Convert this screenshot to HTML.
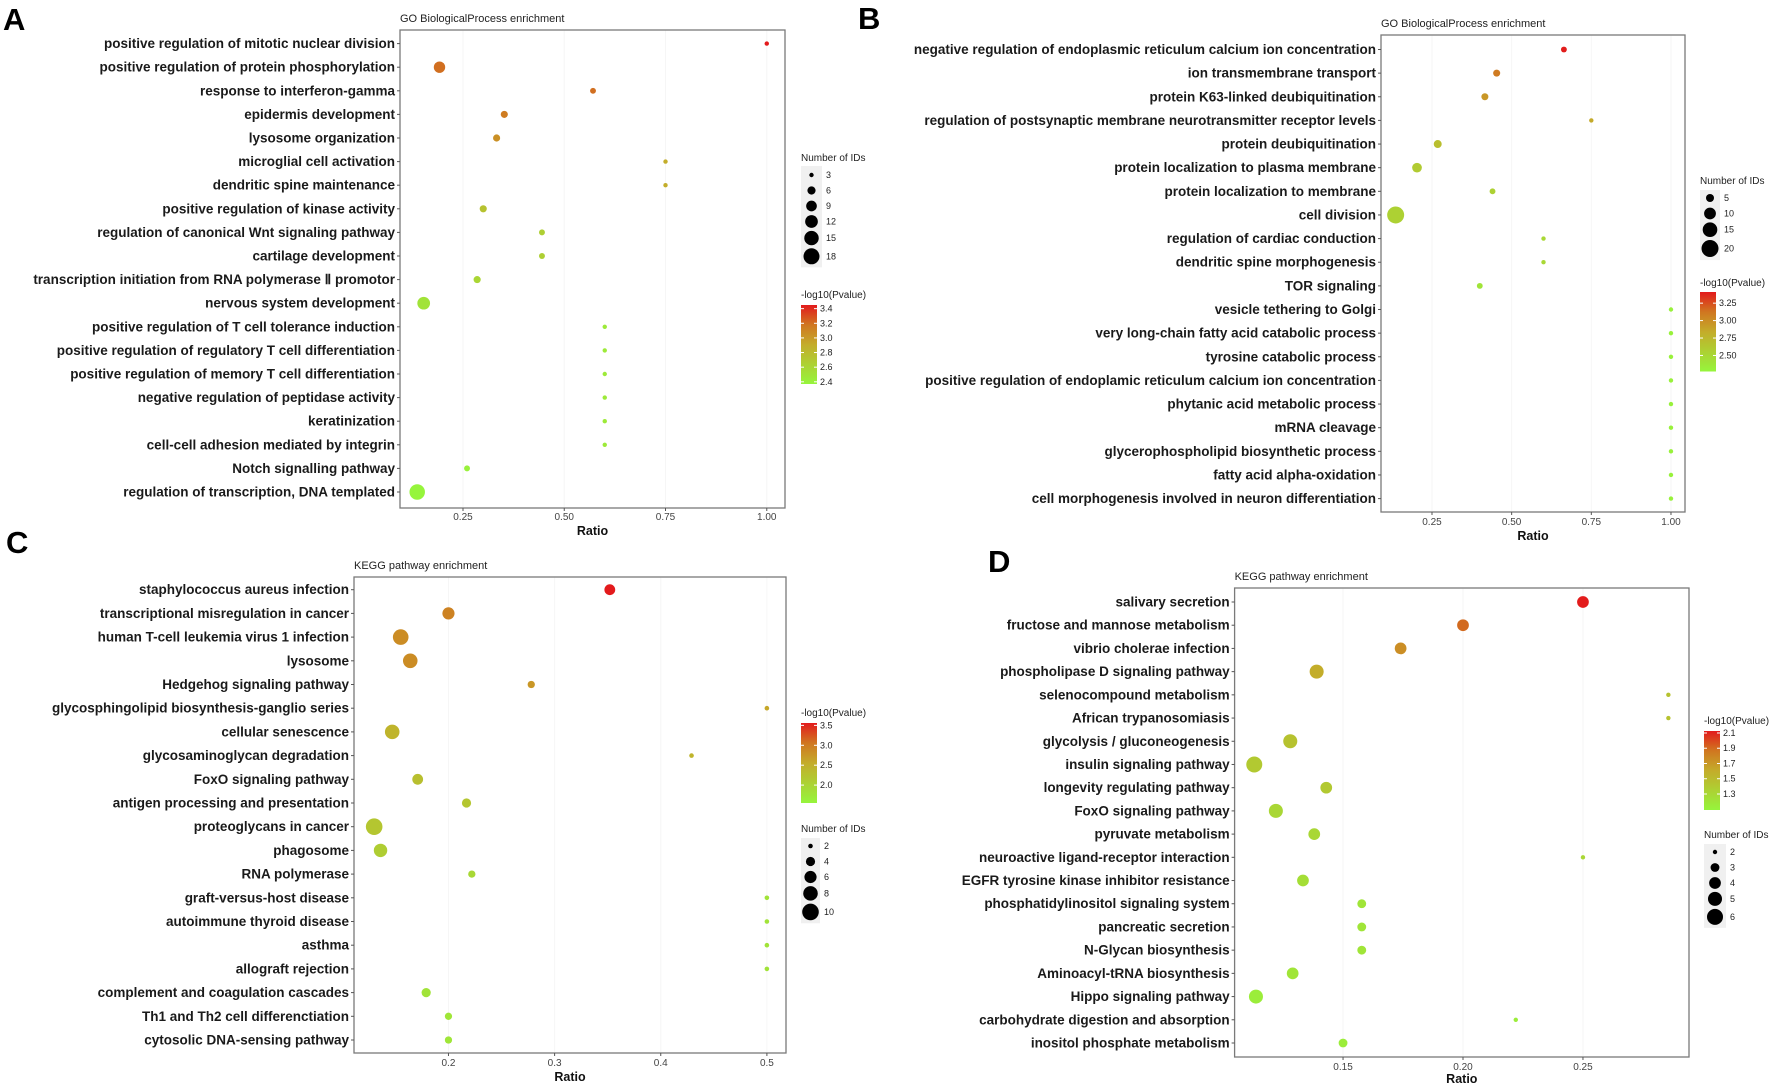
<!DOCTYPE html>
<html><head><meta charset="utf-8">
<style>
html,body{margin:0;padding:0;background:#fff;}
svg{display:block;}
.lab{font-family:"Liberation Sans Narrow","Liberation Sans",sans-serif;font-weight:bold;font-size:13.5px;fill:#1a1a1a;}
.ttl{font-family:"Liberation Sans",sans-serif;font-size:11px;fill:#222;}
.tick{font-family:"Liberation Sans",sans-serif;font-size:10px;fill:#444;}
.axt{font-family:"Liberation Sans",sans-serif;font-weight:bold;font-size:12.5px;fill:#111;}
.leg{font-family:"Liberation Sans",sans-serif;font-size:9px;fill:#222;}
.legt{font-family:"Liberation Sans",sans-serif;font-size:10px;fill:#222;}
.letter{font-family:"Liberation Sans",sans-serif;font-weight:bold;font-size:31px;fill:#000;}
</style></head>
<body>
<svg id="fig" width="1772" height="1086" viewBox="0 0 1772 1086" xmlns="http://www.w3.org/2000/svg">
<text class="letter" x="3" y="30">A</text>
<text class="letter" x="858" y="29">B</text>
<text class="letter" x="6" y="553">C</text>
<text class="letter" x="988" y="572">D</text>
</svg>
<script>
// ---------- Panel A data ----------
const aTerms = ["positive regulation of mitotic nuclear division","positive regulation of protein phosphorylation","response to interferon-gamma","epidermis development","lysosome organization","microglial cell activation","dendritic spine maintenance","positive regulation of kinase activity","regulation of canonical Wnt signaling pathway","cartilage development","transcription initiation from RNA polymerase \u2161 promotor","nervous system development","positive regulation of T cell tolerance induction","positive regulation of regulatory T cell differentiation","positive regulation of memory T cell differentiation","negative regulation of peptidase activity","keratinization","cell-cell adhesion mediated by integrin","Notch signalling pathway","regulation of transcription, DNA templated"];
const aRatio = [1.00,0.192,0.571,0.352,0.333,0.75,0.75,0.30,0.445,0.445,0.285,0.153,0.60,0.60,0.60,0.60,0.60,0.60,0.26,0.137];
const aCount = [3,10,4,5,5,3,3,5,4,4,5,12,3,3,3,3,3,3,4,17];
const aLogP = [3.45,3.2,3.2,3.15,3.05,2.9,2.9,2.75,2.65,2.65,2.6,2.5,2.45,2.45,2.45,2.45,2.45,2.45,2.4,2.35];
const aTicks = [0.25,0.5,0.75,1.0];
const aTickLabels = ["0.25","0.50","0.75","1.00"];
const aSizeBreaks = [3,6,9,12,15,18];
const aColorBreaks = [3.4,3.2,3.0,2.8,2.6,2.4];
const aColorLabels = ["3.4","3.2","3.0","2.8","2.6","2.4"];

// ---------- Panel B data ----------
const bTerms = ["negative regulation of endoplasmic reticulum calcium ion concentration","ion transmembrane transport","protein K63-linked deubiquitination","regulation of postsynaptic membrane neurotransmitter receptor levels","protein deubiquitination","protein localization to plasma membrane","protein localization to membrane","cell division","regulation of cardiac conduction","dendritic spine morphogenesis","TOR signaling","vesicle tethering to Golgi","very long-chain fatty acid catabolic process","tyrosine catabolic process","positive regulation of endoplamic reticulum calcium ion concentration","phytanic acid metabolic process","mRNA cleavage","glycerophospholipid biosynthetic process","fatty acid alpha-oxidation","cell morphogenesis involved in neuron differentiation"];
const bRatio = [0.664,0.453,0.416,0.75,0.268,0.203,0.44,0.136,0.6,0.6,0.4,1,1,1,1,1,1,1,1,1];
const bCount = [3,4,4,2,5,7,3,20,2,2,3,2,2,2,2,2,2,2,2,2];
const bLogP = [3.4,3.1,2.95,2.85,2.7,2.6,2.55,2.55,2.5,2.5,2.4,2.3,2.3,2.3,2.3,2.3,2.3,2.3,2.3,2.3];
const bTicks = [0.25,0.5,0.75,1.0];
const bTickLabels = ["0.25","0.50","0.75","1.00"];
const bSizeBreaks = [5,10,15,20];
const bColorBreaks = [3.25,3.0,2.75,2.5];
const bColorLabels = ["3.25","3.00","2.75","2.50"];

// ---------- Panel C data ----------
const cTerms = ["staphylococcus aureus infection","transcriptional misregulation in cancer","human T-cell leukemia virus 1 infection","lysosome","Hedgehog signaling pathway","glycosphingolipid biosynthesis-ganglio series","cellular senescence","glycosaminoglycan degradation","FoxO signaling pathway","antigen processing and presentation","proteoglycans in cancer","phagosome","RNA polymerase","graft-versus-host disease","autoimmune thyroid disease","asthma","allograft rejection","complement and coagulation cascades","Th1 and Th2 cell differenctiation","cytosolic DNA-sensing pathway"];
const cRatio = [0.352,0.20,0.155,0.164,0.278,0.5,0.147,0.429,0.171,0.217,0.13,0.136,0.222,0.5,0.5,0.5,0.5,0.179,0.2,0.2];
const cCount = [5,6,9,8,3,2,8,2,5,4,10,7,3,2,2,2,2,4,3,3];
const cLogP = [3.6,2.95,2.85,2.85,2.75,2.6,2.45,2.45,2.3,2.2,2.2,2.1,1.95,1.8,1.8,1.8,1.8,1.8,1.75,1.75];
const cTicks = [0.2,0.3,0.4,0.5];
const cTickLabels = ["0.2","0.3","0.4","0.5"];
const cSizeBreaks = [2,4,6,8,10];
const cColorBreaks = [3.5,3.0,2.5,2.0];
const cColorLabels = ["3.5","3.0","2.5","2.0"];

// ---------- Panel D data ----------
const dTerms = ["salivary secretion","fructose and mannose metabolism","vibrio cholerae infection","phospholipase D signaling pathway","selenocompound metabolism","African trypanosomiasis","glycolysis / gluconeogenesis","insulin signaling pathway","longevity regulating pathway","FoxO signaling pathway","pyruvate metabolism","neuroactive ligand-receptor interaction","EGFR tyrosine kinase inhibitor resistance","phosphatidylinositol signaling system","pancreatic secretion","N-Glycan biosynthesis","Aminoacyl-tRNA biosynthesis","Hippo signaling pathway","carbohydrate digestion and absorption","inositol phosphate metabolism"];
const dRatio = [0.25,0.20,0.174,0.139,0.2856,0.2856,0.128,0.113,0.143,0.122,0.138,0.25,0.1333,0.1578,0.1578,0.1578,0.129,0.1137,0.222,0.15];
const dCount = [4,4,4,5,2,2,5,6,4,5,4,2,4,3,3,3,4,5,2,3];
const dLogP = [2.12,1.9,1.75,1.6,1.45,1.45,1.45,1.4,1.4,1.3,1.3,1.3,1.25,1.2,1.2,1.2,1.2,1.15,1.15,1.15];
const dTicks = [0.15,0.20,0.25];
const dTickLabels = ["0.15","0.20","0.25"];
const dSizeBreaks = [2,3,4,5,6];
const dColorBreaks = [2.1,1.9,1.7,1.5,1.3];
const dColorLabels = ["2.1","1.9","1.7","1.5","1.3"];

const NS = "http://www.w3.org/2000/svg";
const svg = document.getElementById("fig");
const STOPS = [[0,[150,245,60]],[0.5,[196,172,42]],[0.75,[208,118,32]],[1,[227,26,28]]];
function colorOf(v, cmin, cmax) {
  let t = Math.max(0, Math.min(1, (v - cmin) / (cmax - cmin)));
  let k = 0;
  while (k < STOPS.length - 2 && t > STOPS[k + 1][0]) k++;
  const [t0, c0] = STOPS[k], [t1, c1] = STOPS[k + 1];
  const u = (t - t0) / (t1 - t0);
  const c = c0.map((l, i) => Math.round(l + (c1[i] - l) * u));
  return "rgb(" + c.join(",") + ")";
}
function mk(tag, attrs, parent) {
  const e = document.createElementNS(NS, tag);
  for (const k in attrs) e.setAttribute(k, attrs[k]);
  (parent || svg).appendChild(e);
  return e;
}

function drawPanel(p) {
  const g = mk("g", {});
  
  
  const B = p.box;
  const xs = v => B.l + (v - p.xmin) / (p.xmax - p.xmin) * (B.r - B.l);
  const n = p.terms.length;
  const ys = i => p.row0 + i * (p.row1 - p.row0) / (n - 1);
  const rs = c => Math.sqrt(p.rLo * p.rLo + Math.max(0, (c - p.nLo)) / (p.nHi - p.nLo) * (p.rHi * p.rHi - p.rLo * p.rLo));
  const t = mk("text", {x: B.l, y: p.titleY, class: "ttl"}, g);
  t.textContent = p.title;
  
  
  p.ticks.forEach(v => {
    const gl = mk("line", {x1: xs(v), x2: xs(v), y1: B.t, y2: B.b, stroke: "#f6f6f6", "stroke-width": 1}, g);
    
    
  });
  const fr = mk("rect", {x: B.l, y: B.t, width: B.r - B.l, height: B.b - B.t, fill: "none", stroke: "#7a7a7a", "stroke-width": 1.3}, g);
  
  
  p.terms.forEach((term, i) => {
    const y = ys(i);
    mk("line", {x1: B.l - 3, x2: B.l, y1: y, y2: y, stroke: "#555"}, g);
    const lb = mk("text", {x: B.l - 5, y: y + 4.5, class: "lab", "text-anchor": "end"}, g);
    lb.textContent = term;
    
    
  });
  p.ticks.forEach((v, i) => {
    const x = xs(v);
    mk("line", {x1: x, x2: x, y1: B.b, y2: B.b + 3, stroke: "#555"}, g);
    const tl = mk("text", {x: x, y: p.tickY, class: "tick", "text-anchor": "middle"}, g);
    tl.textContent = p.tickLabels[i];
    
    
  });
  const ax = mk("text", {x: (B.l + B.r) / 2, y: p.ratioY, class: "axt", "text-anchor": "middle"}, g);
  ax.textContent = "Ratio";
  
  
  p.terms.forEach((term, i) => {
    const c = mk("circle", {cx: xs(p.ratio[i]), cy: ys(i), r: rs(p.count[i]), fill: colorOf(p.logp[i], p.cmin, p.cmax)}, g);
    
    
  });
  const S = p.sizeLeg;
  const st = mk("text", {x: S.x, y: S.titleY, class: "legt"}, g);
  st.textContent = "Number of IDs";
  
  
  let yy = S.y0;
  const pos = [];
  p.sizeBreaks.forEach((b, i) => {
    if (i > 0) yy += Math.max(S.step, rs(p.sizeBreaks[i - 1]) + rs(b) + 3);
    pos.push(yy);
  });
  const bg = mk("rect", {x: S.x, y: pos[0] - S.pad, width: S.w, height: pos[pos.length - 1] - pos[0] + S.pad + rs(p.sizeBreaks[p.sizeBreaks.length - 1]) + 3, fill: "#f0f0f0"}, g);
  
  
  p.sizeBreaks.forEach((b, i) => {
    const c = mk("circle", {cx: S.x + S.w / 2, cy: pos[i], r: rs(b), fill: "#000"}, g);
    
    
    const l = mk("text", {x: S.x + S.w + 4, y: pos[i] + 3, class: "leg"}, g);
    l.textContent = b;
    
    
  });
  const C = p.colLeg;
  const ct = mk("text", {x: C.x, y: C.titleY, class: "legt"}, g);
  ct.textContent = "-log10(Pvalue)";
  
  
  const gid = "grad-" + p.id;
  const defs = mk("defs", {}, g);
  const lg = mk("linearGradient", {id: gid, x1: 0, y1: 1, x2: 0, y2: 0}, defs);
  for (let k = 0; k <= 20; k++) mk("stop", {offset: k / 20, "stop-color": colorOf(p.cmin + (p.cmax - p.cmin) * k / 20, p.cmin, p.cmax)}, lg);
  const bar = mk("rect", {x: C.x, y: C.top, width: 16, height: C.bot - C.top, fill: "url(#" + gid + ")"}, g);
  
  
  const cy = v => C.bot - (v - p.cmin) / (p.cmax - p.cmin) * (C.bot - C.top);
  p.colorBreaks.forEach((v, i) => {
    const y = cy(v);
    mk("line", {x1: C.x, x2: C.x + 3, y1: y, y2: y, stroke: "#fff"}, g);
    mk("line", {x1: C.x + 13, x2: C.x + 16, y1: y, y2: y, stroke: "#fff"}, g);
    const l = mk("text", {x: C.x + 19, y: y + 3, class: "leg"}, g);
    l.textContent = p.colorLabels[i];
    
    
  });
}

drawPanel({id: "a", title: "GO BiologicalProcess enrichment", titleY: 22,
  box: {l: 400, r: 785, t: 30, b: 508}, xmin: 0.0945, xmax: 1.045, row0: 43.6, row1: 492,
  terms: aTerms, ratio: aRatio, count: aCount, logp: aLogP, ticks: aTicks, tickLabels: aTickLabels,
  tickY: 520, ratioY: 535, cmin: 2.37, cmax: 3.45, nLo: 3, nHi: 18, rLo: 2.2, rHi: 8,
  sizeBreaks: aSizeBreaks, colorBreaks: aColorBreaks, colorLabels: aColorLabels,
  sizeLeg: {x: 801, w: 21, titleY: 161, y0: 175, step: 15.5, pad: 9},
  colLeg: {x: 801, titleY: 298, top: 305, bot: 384}});

drawPanel({id: "b", title: "GO BiologicalProcess enrichment", titleY: 27,
  box: {l: 1381, r: 1685, t: 35, b: 512}, xmin: 0.09, xmax: 1.044, row0: 49.5, row1: 498.6,
  terms: bTerms, ratio: bRatio, count: bCount, logp: bLogP, ticks: bTicks, tickLabels: bTickLabels,
  tickY: 525, ratioY: 540, cmin: 2.27, cmax: 3.41, nLo: 2, nHi: 20, rLo: 2.2, rHi: 8.5,
  sizeBreaks: bSizeBreaks, colorBreaks: bColorBreaks, colorLabels: bColorLabels,
  sizeLeg: {x: 1700, w: 20, titleY: 184, y0: 198, step: 15.5, pad: 8},
  colLeg: {x: 1700, titleY: 286, top: 292, bot: 371.5}});

drawPanel({id: "c", title: "KEGG pathway enrichment", titleY: 569,
  box: {l: 354, r: 786, t: 577, b: 1053}, xmin: 0.111, xmax: 0.518, row0: 589.7, row1: 1040,
  terms: cTerms, ratio: cRatio, count: cCount, logp: cLogP, ticks: cTicks, tickLabels: cTickLabels,
  tickY: 1066, ratioY: 1081, cmin: 1.55, cmax: 3.56, nLo: 2, nHi: 10, rLo: 2.3, rHi: 8.3,
  sizeBreaks: cSizeBreaks, colorBreaks: cColorBreaks, colorLabels: cColorLabels,
  sizeLeg: {x: 801, w: 19, titleY: 832, y0: 846, step: 15.5, pad: 8},
  colLeg: {x: 801, titleY: 716, top: 723, bot: 803}});

drawPanel({id: "d", title: "KEGG pathway enrichment", titleY: 580,
  box: {l: 1234.6, r: 1689, t: 588, b: 1057}, xmin: 0.1048, xmax: 0.2942, row0: 602, row1: 1043,
  terms: dTerms, ratio: dRatio, count: dCount, logp: dLogP, ticks: dTicks, tickLabels: dTickLabels,
  tickY: 1070, ratioY: 1083, cmin: 1.09, cmax: 2.126, nLo: 2, nHi: 6, rLo: 2.2, rHi: 8,
  sizeBreaks: dSizeBreaks, colorBreaks: dColorBreaks, colorLabels: dColorLabels,
  sizeLeg: {x: 1704, w: 22, titleY: 838, y0: 852, step: 15.5, pad: 8},
  colLeg: {x: 1704, titleY: 724, top: 731, bot: 810}});
</script>
</body></html>
